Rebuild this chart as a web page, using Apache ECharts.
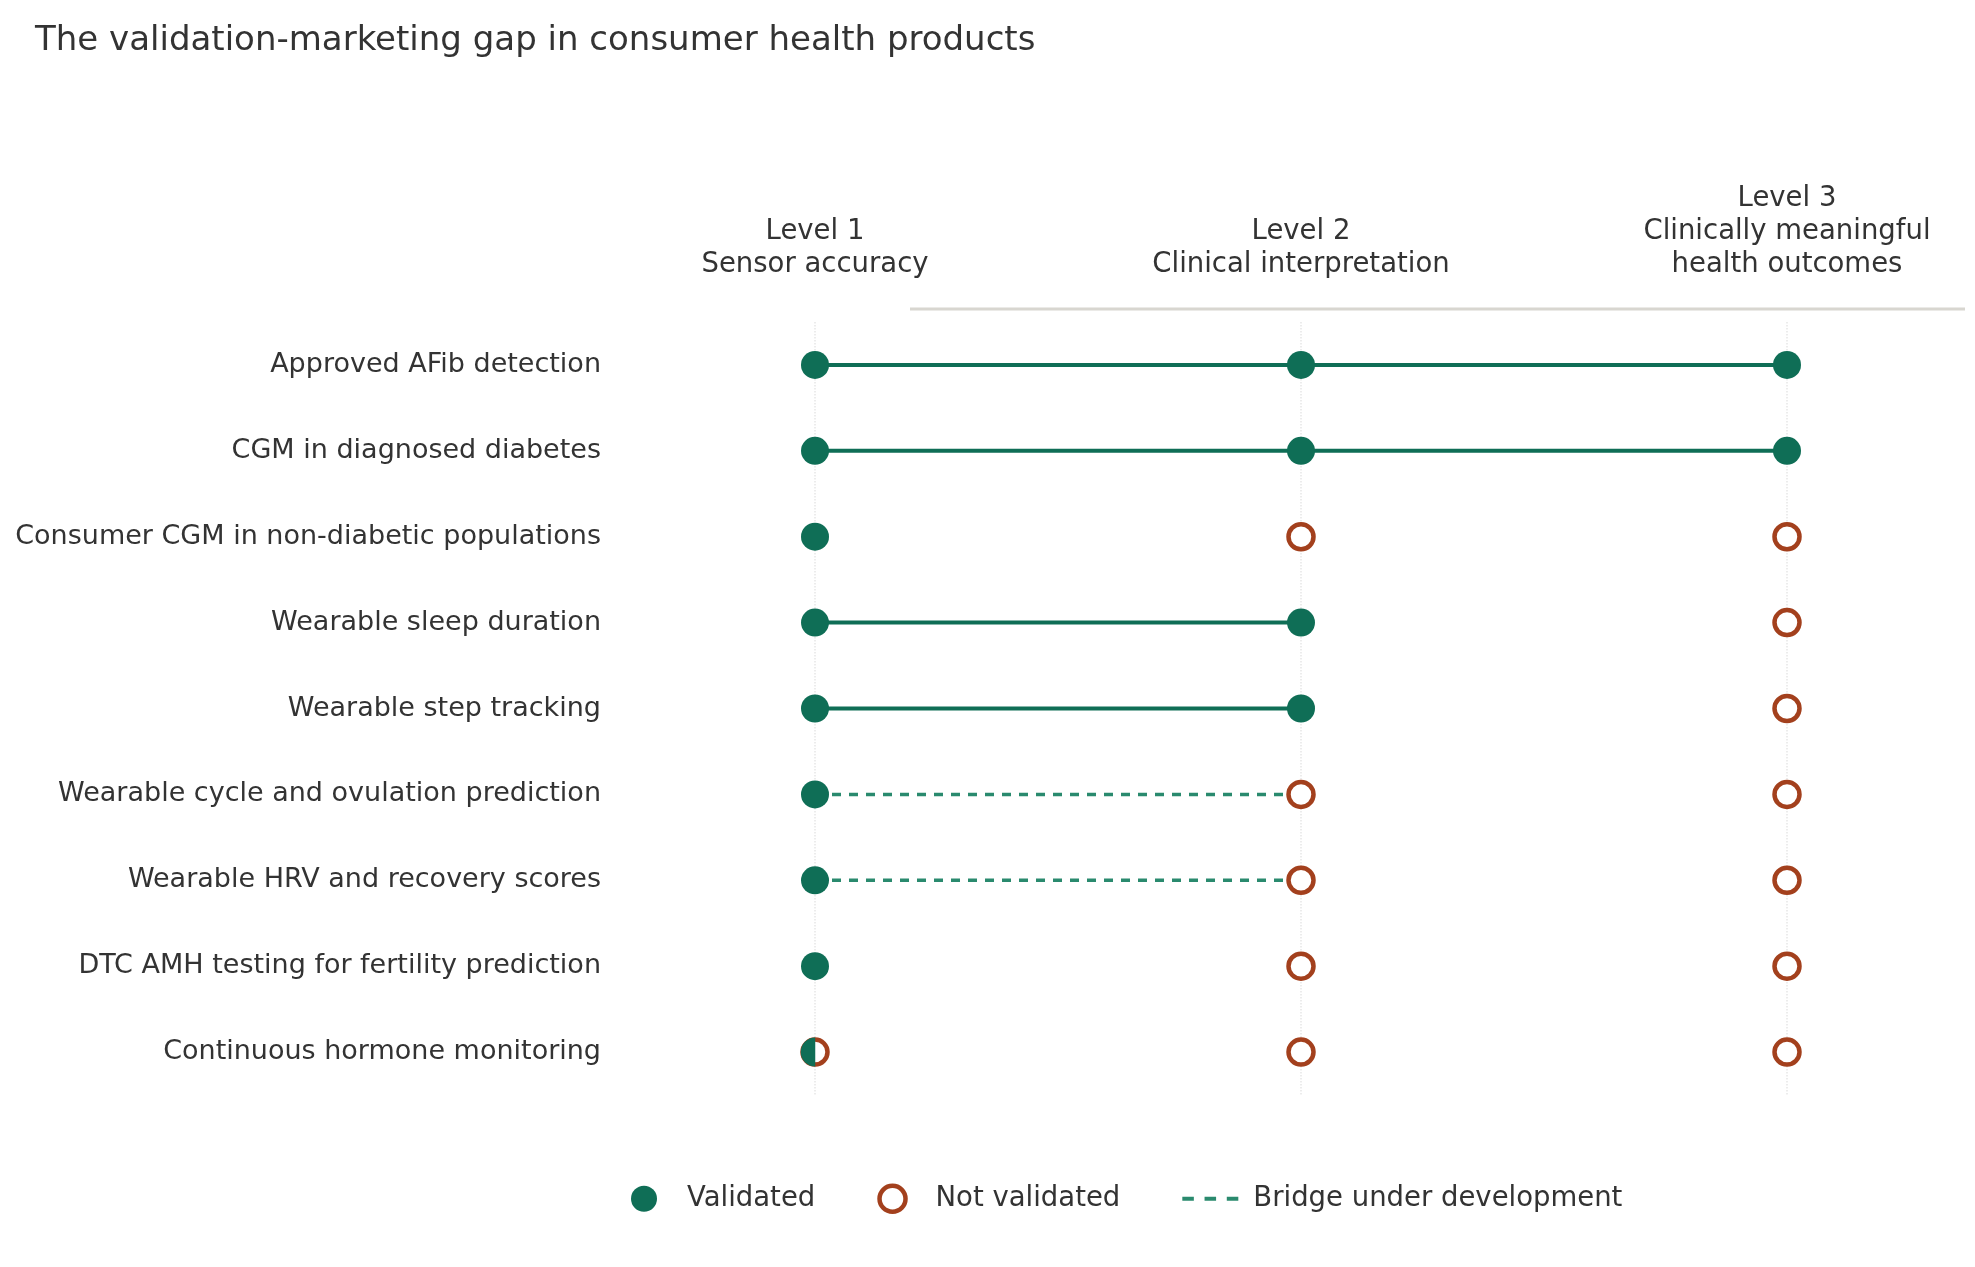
<!DOCTYPE html>
<html><head><meta charset="utf-8">
<script src="https://cdn.jsdelivr.net/npm/echarts@6/dist/echarts.min.js"></script>
<style>html,body{margin:0;padding:0;background:#fff}#c{width:1975px;height:1267px}</style>
</head><body><div id="c"></div>
<script>
const levels = ['Level 1\nSensor accuracy', 'Level 2\nClinical interpretation', 'Level 3\nClinically meaningful\nhealth outcomes'];
const products = ['Approved AFib detection','CGM in diagnosed diabetes','Consumer CGM in non-diabetic populations','Wearable sleep duration','Wearable step tracking','Wearable cycle and ovulation prediction','Wearable HRV and recovery scores','DTC AMH testing for fertility prediction','Continuous hormone monitoring'];
// status per level: v = validated, n = not validated, h = partial
const status = [
  ['v','v','v'],['v','v','v'],['v','n','n'],['v','v','n'],['v','v','n'],
  ['v','n','n'],['v','n','n'],['v','n','n'],['h','n','n']
];
// connections: [product index, from level, to level, type]
const links = [[0,0,2,'solid'],[1,0,2,'solid'],[3,0,1,'solid'],[4,0,1,'solid'],[5,0,1,'dashed'],[6,0,1,'dashed']];

const GREEN='#0f6e56', RUST='#a3401d', TXT='#333333', F='DejaVu Sans';
const vPts=[], nPts=[], hPts=[];
status.forEach((r,i)=>r.forEach((s,j)=>{const p=[j,products[i]]; if(s==='v')vPts.push(p); else if(s==='n')nPts.push(p); else {hPts.push(p);nPts.push(p);}}));
const solid=[], dashed=[];
links.forEach(([i,a,b,t])=>{const arr=t==='solid'?solid:dashed; arr.push([a,products[i]],[b,products[i]],'-');});

const chart=echarts.init(document.getElementById('c'));
chart.setOption({
  animation:false,
  title:{text:'The validation-marketing gap in consumer health products',left:30,top:19,textStyle:{fontFamily:F,fontSize:34,fontWeight:'normal',color:TXT}},
  grid:{left:815,right:188,top:322,height:773},
  xAxis:{type:'value',min:0,max:2,interval:1,position:'top',
    axisLine:{show:false},axisTick:{show:false},
    axisLabel:{formatter:v=>levels[v],fontFamily:F,fontSize:27.5,color:TXT,lineHeight:33,margin:41,align:'center'},
    splitLine:{show:true,lineStyle:{color:'#e6e6e6',type:'dotted',width:1.5}}},
  yAxis:{type:'category',data:products,inverse:true,axisLine:{show:false},axisTick:{show:false},splitLine:{show:false},
    axisLabel:{fontFamily:F,fontSize:27,color:TXT,margin:214}},
  graphic:[{type:'line',shape:{x1:910,y1:309,x2:1965,y2:309},style:{stroke:'#d8d6d0',lineWidth:3}}],
  legend:{bottom:48,left:626,itemGap:62,itemWidth:56,itemHeight:26,
    textStyle:{fontFamily:F,fontSize:27.5,color:TXT,padding:[0,0,0,10]},
    data:[
      {name:'Validated',icon:'circle',itemStyle:{color:GREEN}},
      {name:'Not validated',icon:'circle',itemStyle:{color:'#fff',borderColor:RUST,borderWidth:4.5}},
      {name:'Bridge under development',icon:'path://M0,9h7v2.5h-7z M13.5,9h7v2.5h-7z M27,9h7v2.5h-7z',itemStyle:{color:'#2a8a6e'}}
    ]},
  series:[
    {type:'line',name:'solid',data:solid,connectNulls:false,symbol:'none',lineStyle:{color:GREEN,width:4},z:1,silent:true},
    {type:'line',name:'Bridge under development',data:dashed,connectNulls:false,symbol:'none',lineStyle:{color:'#2a8a6e',width:3.5,type:[9,8]},itemStyle:{color:'#2a8a6e'},z:1},
    {type:'scatter',name:'Validated',data:vPts,symbol:'circle',symbolSize:28,itemStyle:{color:GREEN,opacity:1},z:3},
    {type:'scatter',name:'Not validated',data:nPts,symbol:'circle',symbolSize:25,itemStyle:{color:'#fff',borderColor:RUST,borderWidth:4.5,opacity:1},z:3},
    {type:'scatter',name:'partial',data:hPts,symbol:'path://M10,0 A10,10 0 0,0 10,20 Z',symbolSize:[14.5,29],symbolOffset:[-7,0],itemStyle:{color:GREEN,opacity:1},z:4}
  ]
});
</script></body></html>
